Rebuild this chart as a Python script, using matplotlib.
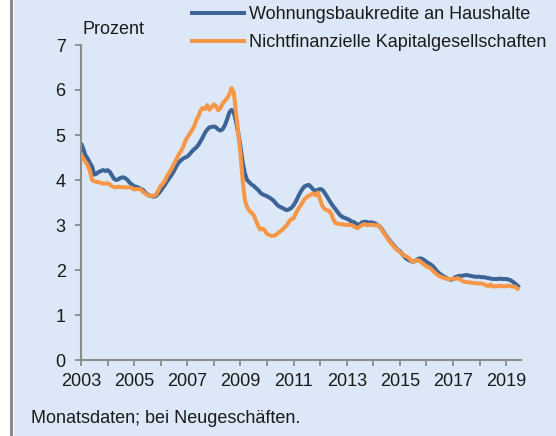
import numpy as np
import matplotlib
matplotlib.use("Agg")
import matplotlib.pyplot as plt
from matplotlib.lines import Line2D
from matplotlib.patches import Rectangle

plt.rcParams['font.family'] = ['Liberation Sans', 'DejaVu Sans']

start_year = 2003
series_names = ["Wohnungsbaukredite an Haushalte", "Nichtfinanzielle Kapitalgesellschaften"]

# Monthly values, Jan 2003 .. Jul 2019 (percent)
housing = [
    4.82, 4.70, 4.55, 4.48, 4.38, 4.30, 4.12, 4.14, 4.18, 4.20, 4.22, 4.20,
    4.22, 4.18, 4.10, 4.02, 4.00, 4.02, 4.05, 4.06, 4.04, 4.00, 3.94, 3.90,
    3.86, 3.85, 3.83, 3.80, 3.78, 3.72, 3.68, 3.65, 3.64, 3.63, 3.65, 3.70,
    3.76, 3.83, 3.90, 3.98, 4.05, 4.12, 4.20, 4.30, 4.38, 4.43, 4.47, 4.50,
    4.52, 4.57, 4.63, 4.68, 4.72, 4.78, 4.86, 4.95, 5.05, 5.12, 5.17, 5.18,
    5.19, 5.17, 5.12, 5.10, 5.13, 5.22, 5.35, 5.50, 5.56, 5.50, 5.30, 5.05,
    4.75, 4.40, 4.15, 4.00, 3.95, 3.90, 3.87, 3.82, 3.78, 3.72, 3.68, 3.66,
    3.64, 3.61, 3.58, 3.54, 3.48, 3.43, 3.40, 3.38, 3.35, 3.33, 3.35, 3.38,
    3.44, 3.52, 3.62, 3.72, 3.80, 3.86, 3.88, 3.89, 3.84, 3.78, 3.76, 3.78,
    3.80, 3.78, 3.72, 3.64, 3.56, 3.48, 3.41, 3.35, 3.28, 3.22, 3.18, 3.16,
    3.14, 3.12, 3.08, 3.07, 3.04, 3.00, 3.02, 3.06, 3.07, 3.07, 3.05, 3.06,
    3.05, 3.03, 3.00, 2.96, 2.90, 2.82, 2.75, 2.68, 2.62, 2.56, 2.50, 2.45,
    2.42, 2.36, 2.30, 2.25, 2.22, 2.20, 2.18, 2.20, 2.24, 2.26, 2.25, 2.22,
    2.18, 2.15, 2.12, 2.08, 2.02, 1.96, 1.92, 1.88, 1.85, 1.82, 1.80, 1.78,
    1.80, 1.84, 1.86, 1.87, 1.87, 1.88, 1.89, 1.88, 1.87, 1.86, 1.85, 1.85,
    1.85, 1.84, 1.84, 1.83, 1.82, 1.81, 1.80, 1.80, 1.80, 1.81, 1.80, 1.80,
    1.80, 1.79, 1.77, 1.74, 1.70, 1.66, 1.61,
]

corporates = [
    4.56, 4.48, 4.40, 4.33, 4.20, 4.00, 3.97, 3.96, 3.95, 3.93, 3.92, 3.92,
    3.93, 3.90, 3.86, 3.84, 3.84, 3.85, 3.84, 3.84, 3.84, 3.83, 3.84, 3.82,
    3.79, 3.80, 3.80, 3.79, 3.74, 3.70, 3.66, 3.65, 3.65, 3.65, 3.68, 3.78,
    3.87, 3.92, 4.00, 4.10, 4.18, 4.26, 4.36, 4.45, 4.55, 4.63, 4.72, 4.85,
    4.95, 5.02, 5.10, 5.18, 5.32, 5.41, 5.55, 5.60, 5.58, 5.66, 5.56, 5.62,
    5.68, 5.64, 5.55, 5.60, 5.70, 5.76, 5.82, 5.90, 6.04, 5.95, 5.50, 5.05,
    4.60, 4.00, 3.56, 3.40, 3.32, 3.27, 3.22, 3.10, 2.98, 2.90, 2.92, 2.88,
    2.80, 2.78, 2.76, 2.76, 2.78, 2.82, 2.86, 2.90, 2.95, 3.00, 3.08, 3.13,
    3.15, 3.25, 3.35, 3.42, 3.50, 3.58, 3.62, 3.65, 3.68, 3.70, 3.66, 3.72,
    3.56, 3.42, 3.36, 3.33, 3.32, 3.25, 3.12, 3.04, 3.03, 3.02, 3.02, 3.00,
    3.01, 3.00, 3.00, 2.98, 2.95, 2.93, 2.97, 3.00, 3.02, 3.00, 3.00, 3.01,
    3.00, 2.99, 3.00, 2.95, 2.88, 2.80, 2.74, 2.66, 2.60, 2.54, 2.48, 2.44,
    2.40, 2.36, 2.32, 2.30, 2.27, 2.22, 2.18, 2.20, 2.22, 2.20, 2.16, 2.12,
    2.08, 2.06, 2.03, 1.98, 1.93, 1.89, 1.86, 1.84, 1.82, 1.81, 1.80, 1.80,
    1.81, 1.80, 1.82, 1.80, 1.76, 1.74, 1.73, 1.73, 1.72, 1.71, 1.71, 1.70,
    1.70, 1.70, 1.68, 1.66, 1.64, 1.68, 1.63, 1.64, 1.64, 1.65, 1.64, 1.64,
    1.64, 1.65, 1.64, 1.63, 1.63, 1.59, 1.56,
]

year_ticks = list(range(2003, 2020))
year_labels = [str(y) if (y - 2003) % 2 == 0 else "" for y in year_ticks]
y_ticks = [0, 1, 2, 3, 4, 5, 6, 7]

FS = 13
W, H = 556, 436
fig = plt.figure(figsize=(W / 100, H / 100), dpi=100)
fig.patch.set_facecolor("white")
bg = "#dce8f7"
fig.patches.append(Rectangle((14 / W, 0), 1, 1, transform=fig.transFigure,
                             facecolor=bg, edgecolor="none", zorder=-10))
fig.lines.append(Line2D([11.3 / W, 11.3 / W], [0, 1], transform=fig.transFigure,
                        color="#8a8a8a", lw=2.2, zorder=-5))

ax = fig.add_axes([81 / W, 1 - 360 / H, (521 - 81) / W, (360 - 45) / H])
ax.set_facecolor("none")

x = start_year + np.arange(len(housing)) / 12.0
blue = "#3d6496"
orange = "#f79646"
ax.plot(x, corporates, color=orange, lw=2.9, solid_capstyle="butt", label=series_names[1], zorder=3)
ax.plot(x, housing, color=blue, lw=2.9, solid_capstyle="butt", label=series_names[0], zorder=2)

ax.set_xlim(2003, 2019.56)
ax.set_ylim(0, 7)
ax.set_xticks(year_ticks)
ax.set_xticklabels(year_labels)
ax.set_yticks(y_ticks)

for s in ["top", "right"]:
    ax.spines[s].set_visible(False)
for s in ["left", "bottom"]:
    ax.spines[s].set_color("#8c8c8c")
    ax.spines[s].set_linewidth(1.5)
ax.tick_params(axis="both", direction="out", length=4, width=1.3, color="#8c8c8c",
               labelsize=FS, labelcolor="#1a1a1a")
ax.tick_params(axis="y", pad=7)
ax.tick_params(axis="x", pad=5)

fig.text(82 / W, 1 - 29 / H, "Prozent", fontsize=FS, color="#1a1a1a", va="center", ha="left")
fig.text(31 / W, 1 - 418 / H, "Monatsdaten; bei Neugeschäften.", fontsize=FS,
         color="#1a1a1a", va="center", ha="left")

h = [Line2D([], [], color=blue, lw=2.9), Line2D([], [], color=orange, lw=2.9)]
fig.legend(h, series_names, loc="upper left", bbox_to_anchor=(192 / W, 1 - 6 / H),
           frameon=False, fontsize=FS, handlelength=2.9, handletextpad=0.28,
           labelspacing=0.62, borderpad=0, borderaxespad=0, labelcolor="#1a1a1a")

fig.savefig("out.png", dpi=100, facecolor=fig.get_facecolor())
